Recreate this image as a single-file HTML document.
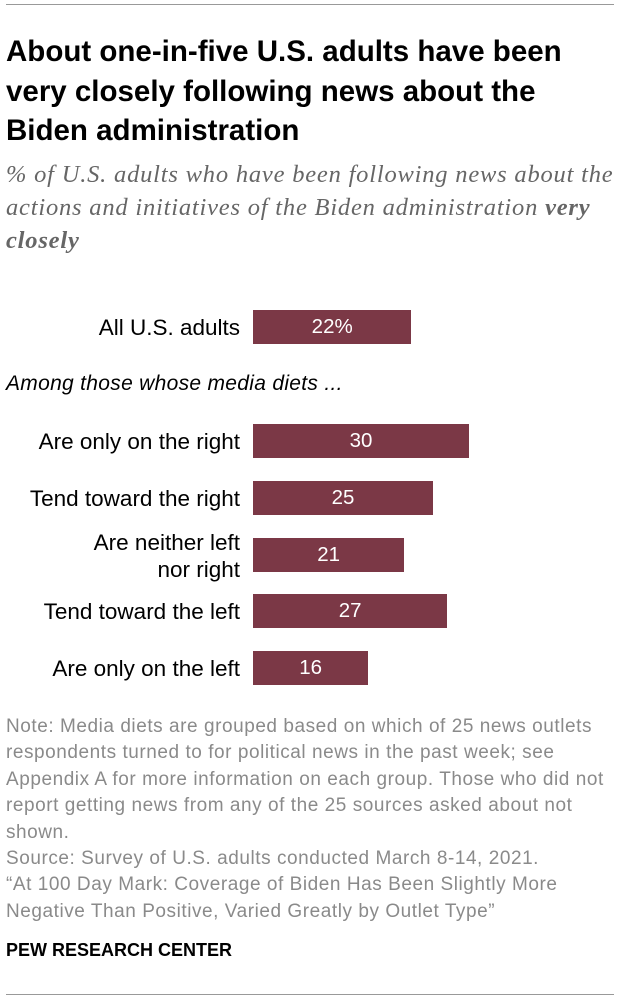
<!DOCTYPE html>
<html><head><meta charset="utf-8"><style>
body{margin:0;width:620px;height:1002px;background:#fff;position:relative;font-family:"Liberation Sans",sans-serif;overflow:hidden}
.abs{position:absolute}
#title{left:6px;top:32px;width:600px;font-size:29.5px;font-weight:bold;line-height:39.5px;color:#000}
#sub{left:6px;top:158px;width:612px;font-family:"Liberation Serif",serif;font-style:italic;font-size:24.5px;letter-spacing:0.8px;line-height:33px;color:#666;white-space:nowrap}
#note{left:6px;top:714px;width:612px;font-size:19px;letter-spacing:0.55px;line-height:26.4px;color:#8a8a8a;white-space:nowrap}
.lbl{font-size:22.5px;color:#000;text-align:right;right:380px;line-height:25px;white-space:nowrap}
.val{font-size:20.5px;color:#fff;text-align:center;line-height:34px}
.bar{background:#7b3846;height:34px;left:253px}
</style></head><body>
<div class="abs" style="left:6px;top:4px;width:608px;height:1px;background:#999"></div>
<div id="title" class="abs">About one-in-five U.S. adults have been very closely following news about the Biden administration</div>
<div id="sub" class="abs">% of U.S. adults who have been following news about the<br>actions and initiatives of the Biden administration <b>very<br>closely</b></div>
<div class="abs" style="left:6px;top:372px;font-size:21px;letter-spacing:0.3px;font-style:italic;color:#000">Among those whose media diets ...</div>
<div id="chart"></div>
<div id="note" class="abs">Note: Media diets are grouped based on which of 25 news outlets<br>respondents turned to for political news in the past week; see<br>Appendix A for more information on each group. Those who did not<br>report getting news from any of the 25 sources asked about not<br>shown.<br>Source: Survey of U.S. adults conducted March 8-14, 2021.<br>“At 100 Day Mark: Coverage of Biden Has Been Slightly More<br>Negative Than Positive, Varied Greatly by Outlet Type”</div>
<div class="abs" style="left:6px;top:940px;font-size:18px;font-weight:bold;color:#000">PEW RESEARCH CENTER</div>
<div class="abs" style="left:6px;top:994px;width:608px;height:1px;background:#999"></div>
<script>
const categories=["All U.S. adults","Are only on the right","Tend toward the right","Are neither left<br>nor right","Tend toward the left","Are only on the left"];
const values=[22,30,25,21,27,16];
const valueLabels=["22%","30","25","21","27","16"];
const rowCenters=[327,441,498,555,611,668];
const x=v=>v*7.2;
const c=document.getElementById('chart');
categories.forEach((cat,i)=>{
  const cy=rowCenters[i];
  const l=document.createElement('div');
  l.className='abs lbl';
  
  
  l.innerHTML=cat;
  const lines=cat.includes('<br>')?2:1;
  l.style.top=(cy-lines*12.5-(lines>1?1:0))+'px';
  if(lines>1)l.style.lineHeight='27px';
  c.appendChild(l);
  const b=document.createElement('div');
  b.className='abs bar';
  
  
  b.style.top=(cy-17)+'px';
  b.style.width=x(values[i])+'px';
  c.appendChild(b);
  const v=document.createElement('div');
  v.className='abs val';
  
  
  v.style.top=(cy-17)+'px';
  v.style.left='253px';
  v.style.width=x(values[i])+'px';
  v.textContent=valueLabels[i];
  c.appendChild(v);
});
</script>
</body></html>
